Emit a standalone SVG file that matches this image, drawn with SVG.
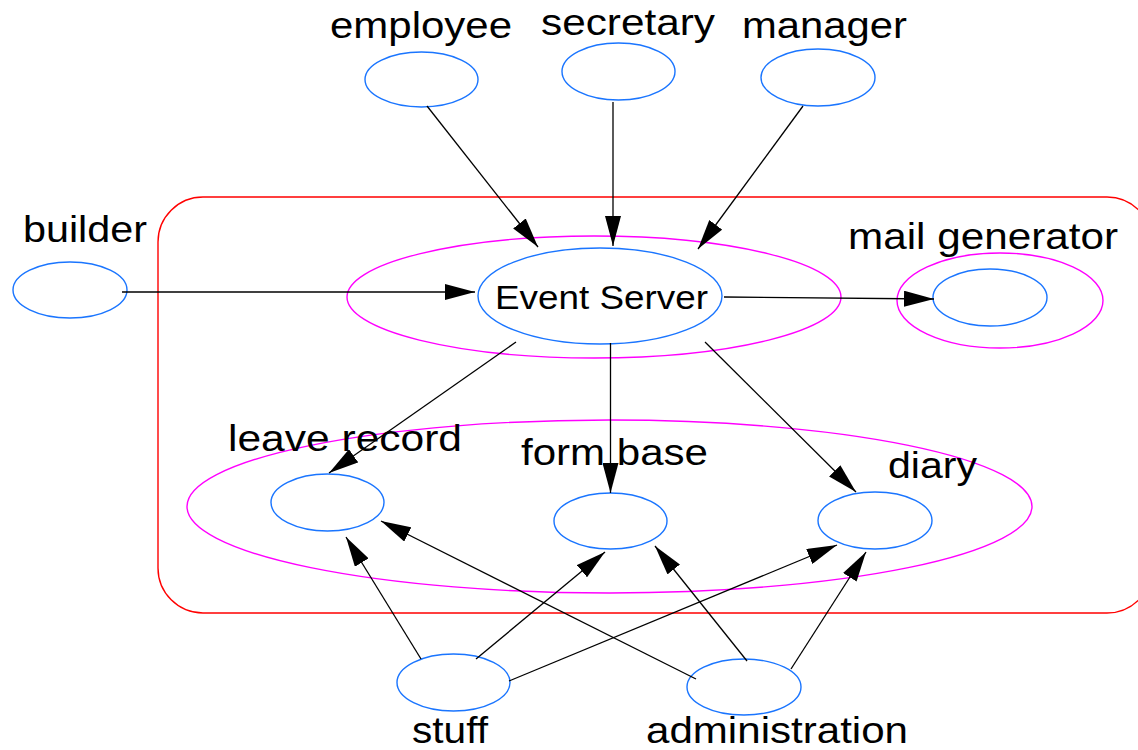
<svg xmlns="http://www.w3.org/2000/svg" width="1138" height="750" viewBox="0 0 1138 750">
<style>
.n{fill:none;stroke:#1a75ff;stroke-width:1.4}
.g{fill:none;stroke:#ff00ff;stroke-width:1.4}
.c{fill:none;stroke:#ff0000;stroke-width:1.4}
.e{stroke:#000;stroke-width:1.3;fill:none;marker-end:url(#ah)}
text{font-family:"Liberation Sans",Arial,Helvetica,sans-serif;font-size:36px;fill:#000}
text.s{font-size:34px}
</style>
<defs>
<marker id="ah" markerUnits="userSpaceOnUse" markerWidth="30" markerHeight="16" refX="30" refY="8" orient="auto">
<path d="M0,0 L30,8 L0,16 z" fill="#000"/>
</marker>
</defs>
<rect width="1138" height="750" fill="#fff"/>
<g id="system">
<rect class="c" x="158" y="197" width="994" height="416" rx="45" ry="45"/>
</g>
<g id="server-group">
<ellipse class="g" cx="594" cy="297" rx="247" ry="61"/>
</g>
<g id="mail-group">
<ellipse class="g" cx="1000" cy="300.5" rx="103" ry="47.5"/>
</g>
<g id="storage-group">
<ellipse class="g" cx="609.5" cy="506.5" rx="422.5" ry="86.5"/>
</g>
<g id="employee">
<ellipse class="n" cx="421.5" cy="79.5" rx="56.5" ry="27.5"/>
<text x="330" y="38" textLength="182" lengthAdjust="spacingAndGlyphs">employee</text>
</g>
<g id="secretary">
<ellipse class="n" cx="618.5" cy="71.5" rx="56.5" ry="28.5"/>
<text x="541" y="35" textLength="174" lengthAdjust="spacingAndGlyphs">secretary</text>
</g>
<g id="manager">
<ellipse class="n" cx="818" cy="77.5" rx="57" ry="28.5"/>
<text x="742" y="38" textLength="165" lengthAdjust="spacingAndGlyphs">manager</text>
</g>
<g id="builder">
<ellipse class="n" cx="70" cy="290" rx="57" ry="28"/>
<text x="23" y="242" textLength="124" lengthAdjust="spacingAndGlyphs">builder</text>
</g>
<g id="event-server">
<ellipse class="n" cx="600" cy="296" rx="122" ry="48"/>
<text class="s" x="495" y="309" textLength="213" lengthAdjust="spacingAndGlyphs">Event Server</text>
</g>
<g id="mail-generator">
<ellipse class="n" cx="990" cy="297.5" rx="57" ry="28.5"/>
<text x="848" y="249" textLength="270" lengthAdjust="spacingAndGlyphs">mail generator</text>
</g>
<g id="leave-record">
<ellipse class="n" cx="327.5" cy="502.5" rx="56.5" ry="28.5"/>
<text x="228" y="451" textLength="234" lengthAdjust="spacingAndGlyphs">leave record</text>
</g>
<g id="form-base">
<ellipse class="n" cx="610.5" cy="521" rx="56.5" ry="28"/>
<text x="521" y="465" textLength="187" lengthAdjust="spacingAndGlyphs">form base</text>
</g>
<g id="diary">
<ellipse class="n" cx="875" cy="520.5" rx="57" ry="28.5"/>
<text x="888" y="478" textLength="89" lengthAdjust="spacingAndGlyphs">diary</text>
</g>
<g id="stuff">
<ellipse class="n" cx="453.5" cy="682.5" rx="56.5" ry="28.5"/>
<text x="412" y="743" textLength="76" lengthAdjust="spacingAndGlyphs">stuff</text>
</g>
<g id="administration">
<ellipse class="n" cx="744" cy="687" rx="57" ry="28"/>
<text x="646" y="743" textLength="262" lengthAdjust="spacingAndGlyphs">administration</text>
</g>
<g id="connectors">
<line class="e" x1="427" y1="106" x2="538" y2="247"/>
<line class="e" x1="613" y1="102" x2="613" y2="246"/>
<line class="e" x1="803" y1="106" x2="698" y2="249"/>
<line class="e" x1="122" y1="292" x2="475" y2="292"/>
<line class="e" x1="724" y1="297" x2="934" y2="299"/>
<line class="e" x1="516" y1="342" x2="329" y2="473"/>
<line class="e" x1="610.5" y1="343" x2="610.5" y2="493"/>
<line class="e" x1="705" y1="342" x2="856" y2="492"/>
<line class="e" x1="421" y1="659" x2="346" y2="537"/>
<line class="e" x1="476" y1="659" x2="605" y2="552"/>
<line class="e" x1="509" y1="681" x2="837" y2="545"/>
<line class="e" x1="696" y1="679" x2="381" y2="521"/>
<line class="e" x1="747" y1="661" x2="655" y2="546"/>
<line class="e" x1="791" y1="669" x2="866" y2="552"/>
</g>
</svg>
